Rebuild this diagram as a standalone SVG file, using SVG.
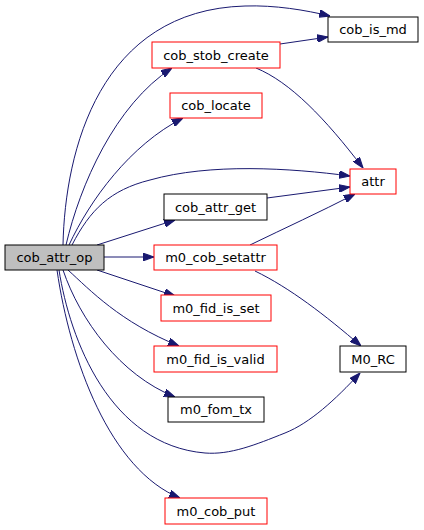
<svg xmlns="http://www.w3.org/2000/svg" width="424" height="530" viewBox="0 0 424 530">
<style>
.n rect{fill:#fff;stroke:#000;stroke-width:1}
.n.r rect{stroke:#ff0000}
.n.g rect{fill:#bfbfbf}
.n text{font-family:"DejaVu Sans","Liberation Sans",sans-serif;font-size:13px;text-anchor:middle;fill:#000}
.e path{fill:none;stroke:#191970;stroke-width:1;marker-end:url(#a)}
</style>
<defs>
<marker id="a" markerUnits="userSpaceOnUse" markerWidth="11" markerHeight="8" refX="10" refY="3.5" orient="auto" viewBox="0 0 10 7">
<path d="M0,0 L10,3.5 L0,7 z" fill="#191970" stroke="#191970"/>
</marker>
</defs>
<rect width="424" height="530" fill="#fff"/>
<g id="connectors" class="e">
<path d="M63,245 C65,150 100,10 245,6 C275,5 305,10 330,16"/>
<path d="M66,245 C80,185 115,105 172,68"/>
<path d="M69,245 C90,200 130,145 183,118"/>
<path d="M72,245 C90,210 110,190 150,180 C210,163 290,168 350,176"/>
<path d="M280,44 L328,37"/>
<path d="M256,68 C290,82 325,118 363,168"/>
<path d="M97,245 L175,220"/>
<path d="M267,198 L350,187"/>
<path d="M250,245 C285,228 320,212 355,194"/>
<path d="M104,257 L154,257"/>
<path d="M255,271 C290,288 325,315 361,346"/>
<path d="M97,270 L175,296"/>
<path d="M68,270 C90,290 120,322 179,346"/>
<path d="M63,270 C80,320 120,375 175,397"/>
<path d="M59,270 C70,340 110,445 205,453 C230,455 255,445 285,433 C310,423 335,400 360,373"/>
<path d="M57,270 C70,360 110,470 180,498"/>
</g>
<g id="cob_attr_op" class="n g"><rect x="5" y="245" width="99" height="25"/><text x="54.5" y="262">cob_attr_op</text></g>
<g id="cob_is_md" class="n"><rect x="328" y="17" width="90" height="25"/><text x="373" y="34">cob_is_md</text></g>
<g id="cob_stob_create" class="n r"><rect x="152" y="42" width="128" height="26"/><text x="216" y="59.5">cob_stob_create</text></g>
<g id="cob_locate" class="n r"><rect x="170" y="93" width="92" height="25"/><text x="216" y="110">cob_locate</text></g>
<g id="attr" class="n r"><rect x="350" y="169" width="46" height="25"/><text x="373" y="186">attr</text></g>
<g id="cob_attr_get" class="n"><rect x="164" y="194" width="103" height="26"/><text x="215.5" y="211.5">cob_attr_get</text></g>
<g id="m0_cob_setattr" class="n r"><rect x="154" y="245" width="123" height="25"/><text x="215.5" y="262">m0_cob_setattr</text></g>
<g id="m0_fid_is_set" class="n r"><rect x="161" y="295" width="110" height="26"/><text x="216" y="312.5">m0_fid_is_set</text></g>
<g id="m0_fid_is_valid" class="n r"><rect x="154" y="346" width="123" height="26"/><text x="215.5" y="363.5">m0_fid_is_valid</text></g>
<g id="M0_RC" class="n"><rect x="340" y="346" width="66" height="26"/><text x="373" y="363.5">M0_RC</text></g>
<g id="m0_fom_tx" class="n"><rect x="168" y="397" width="96" height="25"/><text x="216" y="414">m0_fom_tx</text></g>
<g id="m0_cob_put" class="n r"><rect x="165" y="498" width="102" height="26"/><text x="216" y="515.5">m0_cob_put</text></g>
</svg>
